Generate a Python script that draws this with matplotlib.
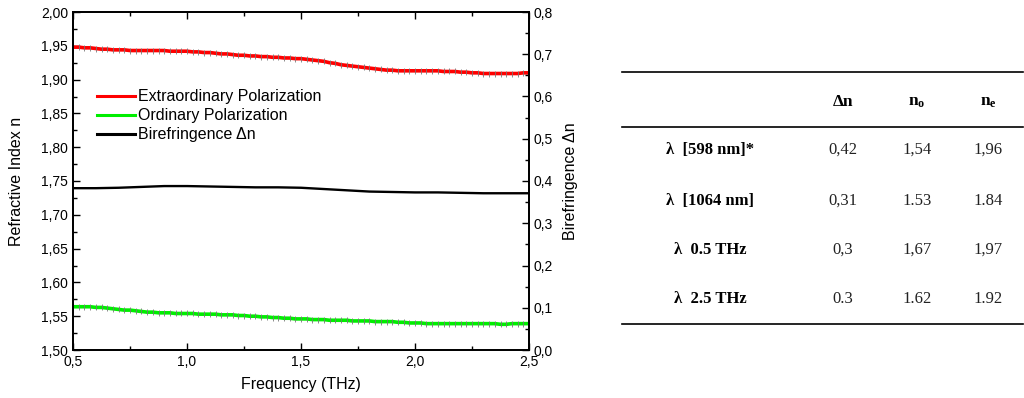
import numpy as np
import matplotlib
matplotlib.use('Agg')
import matplotlib.pyplot as plt
from matplotlib.lines import Line2D
from matplotlib.ticker import MultipleLocator, FuncFormatter

plt.rcParams['font.family'] = ['Liberation Sans', 'DejaVu Sans']
plt.rcParams['mathtext.fontset'] = 'custom'
plt.rcParams['mathtext.rm'] = 'Liberation Serif'
plt.rcParams['mathtext.bf'] = 'Liberation Serif:bold'

# frequency grid (THz), one reading every 0.025 THz
freq = np.round(np.arange(0.5, 2.5001, 0.025), 3)

n_extra = [1.948, 1.948, 1.947, 1.947, 1.946, 1.945, 1.945, 1.944, 1.944, 1.944,
           1.943, 1.943, 1.943, 1.943, 1.943, 1.943, 1.943, 1.942, 1.942, 1.942,
           1.942, 1.941, 1.941, 1.940, 1.940, 1.939, 1.938, 1.938, 1.937, 1.936,
           1.936, 1.935, 1.935, 1.934, 1.934, 1.933, 1.933, 1.932, 1.932, 1.931,
           1.931, 1.930, 1.929, 1.928, 1.927, 1.925, 1.924, 1.922, 1.921, 1.920,
           1.919, 1.918, 1.917, 1.916, 1.915, 1.914, 1.914, 1.913, 1.913, 1.913,
           1.913, 1.913, 1.913, 1.913, 1.913, 1.912, 1.912, 1.912, 1.911, 1.911,
           1.910, 1.910, 1.909, 1.909, 1.909, 1.909, 1.909, 1.909, 1.909, 1.910,
           1.910]

n_ord = [1.564, 1.564, 1.564, 1.564, 1.563, 1.563, 1.562, 1.561, 1.560, 1.559,
         1.559, 1.558, 1.557, 1.556, 1.556, 1.555, 1.555, 1.555, 1.554, 1.554,
         1.554, 1.554, 1.553, 1.553, 1.553, 1.553, 1.552, 1.552, 1.552, 1.551,
         1.551, 1.550, 1.550, 1.549, 1.549, 1.548, 1.548, 1.547, 1.547, 1.546,
         1.546, 1.546, 1.545, 1.545, 1.545, 1.544, 1.544, 1.544, 1.544, 1.543,
         1.543, 1.543, 1.543, 1.542, 1.542, 1.542, 1.542, 1.541, 1.541, 1.540,
         1.540, 1.540, 1.539, 1.539, 1.539, 1.539, 1.539, 1.539, 1.539, 1.539,
         1.539, 1.539, 1.539, 1.539, 1.539, 1.538, 1.538, 1.539, 1.539, 1.539,
         1.539]

# birefringence, coarser readings every 0.1 THz
freq_bi = np.round(np.arange(0.5, 2.5001, 0.1), 2)
biref = [0.383, 0.383, 0.384, 0.386, 0.388, 0.388, 0.387, 0.386, 0.385, 0.385,
         0.384, 0.381, 0.378, 0.375, 0.374, 0.373, 0.373, 0.372, 0.371, 0.371,
         0.371]

# table
row_labels = ['λ  [598 nm]*', 'λ  [1064 nm]', 'λ  0.5 THz', 'λ  2.5 THz']
col_labels = ['Δn', r'$\mathbf{n_o}$', r'$\mathbf{n_e}$']
table_vals = [['0,42', '1,54', '1,96'],
              ['0,31', '1.53', '1.84'],
              ['0,3', '1,67', '1,97'],
              ['0.3', '1.62', '1.92']]

fig = plt.figure(figsize=(10.24, 3.98), dpi=100)
ax = fig.add_axes([73/1024, 48/398, 456/1024, 338/398])
ax2 = ax.twinx()

ax.plot(freq, n_extra, '-', color='#ff0000', lw=2.6, marker='|', ms=5,
        mec='#777777', mew=0.6)
ax.plot(freq, n_ord, '-', color='#00ee00', lw=2.6, marker='|', ms=5,
        mec='#777777', mew=0.6)
ax2.plot(freq_bi, biref, '-', color='black', lw=1.7)

handles = [Line2D([], [], color='#ff0000', lw=2.2),
           Line2D([], [], color='#00ee00', lw=2.2),
           Line2D([], [], color='black', lw=2.2)]
labels = ['Extraordinary Polarization', 'Ordinary Polarization', 'Birefringence Δn']

ax.set_xlim(0.5, 2.5)
ax.set_ylim(1.50, 2.00)
ax2.set_ylim(0.0, 0.8)

comma = lambda fmt: FuncFormatter(lambda v, p: (fmt % v).replace('.', ','))
ax.xaxis.set_major_locator(MultipleLocator(0.5))
ax.xaxis.set_minor_locator(MultipleLocator(0.25))
ax.xaxis.set_major_formatter(comma('%.1f'))
ax.yaxis.set_major_locator(MultipleLocator(0.05))
ax.yaxis.set_minor_locator(MultipleLocator(0.025))
ax.yaxis.set_major_formatter(comma('%.2f'))
ax2.yaxis.set_major_locator(MultipleLocator(0.1))
ax2.yaxis.set_minor_locator(MultipleLocator(0.05))
ax2.yaxis.set_major_formatter(comma('%.1f'))

ax.tick_params(which='both', direction='in', top=True, labelsize=10, width=1.0)
ax.tick_params(which='major', length=5)
ax.tick_params(which='minor', length=3)
ax.tick_params(axis='y', right=False)
ax2.tick_params(which='both', direction='in', labelsize=10, width=1.0)
ax2.tick_params(which='major', length=5)
ax2.tick_params(which='minor', length=3)
for a in (ax, ax2):
    for s in a.spines.values():
        s.set_linewidth(1.3)

ax.set_xlabel('Frequency (THz)', fontsize=11.5, labelpad=6)
ax.set_ylabel('Refractive Index n', fontsize=11.5, labelpad=12)
ax2.set_ylabel('Birefringence Δn', fontsize=11.5, labelpad=7)

ax.legend(handles, labels, loc='upper left', bbox_to_anchor=(0.038, 0.79),
          frameon=False, fontsize=11.5, handlelength=2.4, handletextpad=0.2,
          labelspacing=0.25, borderaxespad=0)

# table drawn in pixel-like coordinates
tx = fig.add_axes([0, 0, 1, 1])
tx.set_xlim(0, 1024)
tx.set_ylim(398, 0)
tx.axis('off')
for yl in (72, 127, 324):
    tx.plot([622, 1023], [yl, yl], color='black', lw=1.2)
col_x = [843, 917, 988]
for cx, lab in zip(col_x, col_labels):
    tx.text(cx, 102, lab, ha='center', va='center', fontsize=12.5,
            family='Liberation Serif', weight='bold')
row_y = [150, 201, 250, 299]
for ry, lab, vals in zip(row_y, row_labels, table_vals):
    tx.text(710, ry, lab, ha='center', va='center', fontsize=12,
            family=['Liberation Serif', 'DejaVu Serif'], weight='bold')
    for cx, v in zip(col_x, vals):
        tx.text(cx, ry, v, ha='center', va='center', fontsize=12,
                family='Liberation Serif', color='#222222')

fig.savefig('out.png', dpi=100)
